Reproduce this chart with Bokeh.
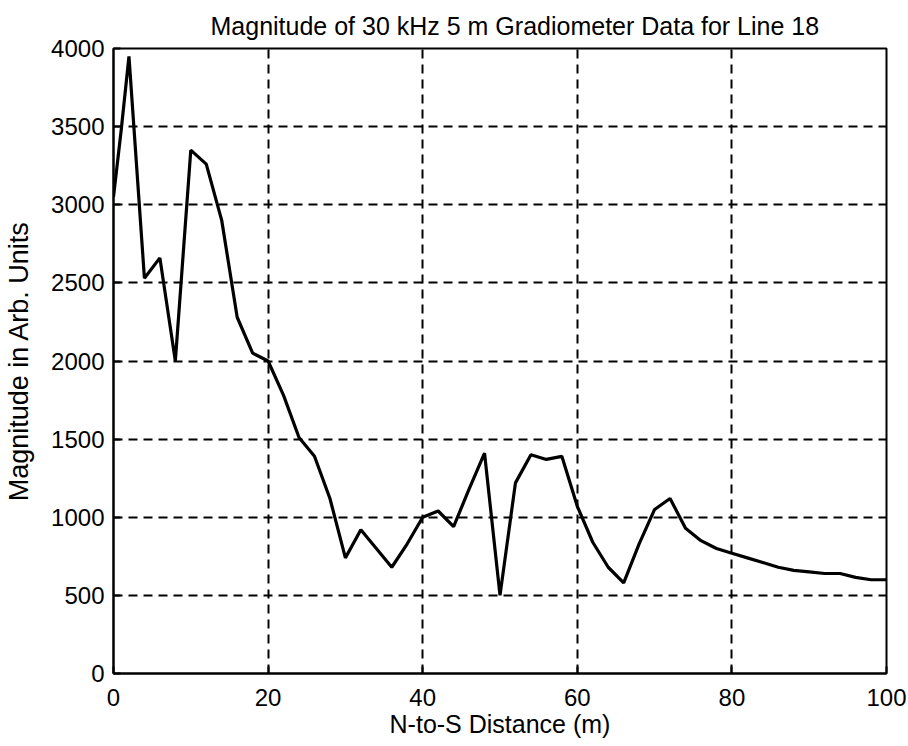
from bokeh.plotting import figure
from bokeh.models import Range1d, FixedTicker
from bokeh.embed import file_html
from bokeh.resources import INLINE

distance_m = [0, 1, 2, 4, 6, 8, 10, 12, 14, 16, 18, 20, 22, 24, 26, 28, 30, 32, 34, 36,
              38, 40, 42, 44, 46, 48, 50, 52, 54, 56, 58, 60, 62, 64, 66, 68, 70, 72,
              74, 76, 78, 80, 82, 84, 86, 88, 90, 92, 94, 96, 98, 100]
magnitude = [3050, 3480, 3950, 2530, 2660, 2000, 3350, 3260, 2900, 2280, 2050, 2000,
             1780, 1510, 1390, 1120, 740, 920, 800, 680, 830, 1000, 1040, 940, 1180,
             1410, 500, 1220, 1400, 1370, 1390, 1070, 840, 680, 580, 830, 1050, 1120,
             930, 850, 800, 770, 740, 710, 680, 660, 650, 640, 640, 615, 600, 600]

x_ticks = [0, 20, 40, 60, 80, 100]
y_ticks = [0, 500, 1000, 1500, 2000, 2500, 3000, 3500, 4000]

FONT = "Liberation Sans"

p = figure(width=908, height=746, output_backend="svg", toolbar_location=None,
           x_range=Range1d(0, 100), y_range=Range1d(0, 4000),
           min_border_left=113, min_border_right=22, min_border_top=48, min_border_bottom=73,
           title="Magnitude of 30 kHz 5 m Gradiometer Data for Line 18")

p.title.align = "left"
p.title.offset = 97
p.title.standoff = 18
p.title.text_font = FONT
p.title.text_font_size = "25px"
p.title.text_font_style = "normal"
p.title.text_color = "black"

p.line(distance_m, magnitude, line_color="black", line_width=3.2)

p.xaxis.ticker = FixedTicker(ticks=x_ticks)
p.yaxis.ticker = FixedTicker(ticks=y_ticks)
p.xaxis.axis_label = "N-to-S Distance (m)"
p.yaxis.axis_label = "Magnitude in Arb. Units"

for ax in (p.xaxis[0], p.yaxis[0]):
    ax.axis_label_text_font = FONT
    ax.axis_label_text_font_style = "normal"
    ax.axis_label_text_color = "black"
    ax.major_label_text_font = FONT
    ax.major_label_text_font_size = "24px"
    ax.major_label_text_color = "black"
    ax.major_tick_in = 7
    ax.major_tick_out = 0
    ax.minor_tick_in = 0
    ax.minor_tick_out = 0
    ax.axis_line_color = "black"
    ax.axis_line_width = 2
    ax.major_tick_line_color = "black"
    ax.major_tick_line_width = 2

p.xaxis.axis_label_text_font_size = "25px"
p.yaxis.axis_label_text_font_size = "27px"
p.xaxis.major_label_standoff = 15
p.yaxis.major_label_standoff = 9
p.xaxis.axis_label_standoff = 1
p.yaxis.axis_label_standoff = 14

for g in (p.xgrid[0], p.ygrid[0]):
    g.grid_line_color = "black"
    g.grid_line_dash = "9 6"
    g.grid_line_width = 2
    g.grid_line_alpha = 1.0

p.outline_line_color = "black"
p.outline_line_width = 2
p.outline_line_alpha = 1.0
p.background_fill_color = "white"
p.border_fill_color = "white"

open("out.html", "w").write(file_html(p, INLINE))
